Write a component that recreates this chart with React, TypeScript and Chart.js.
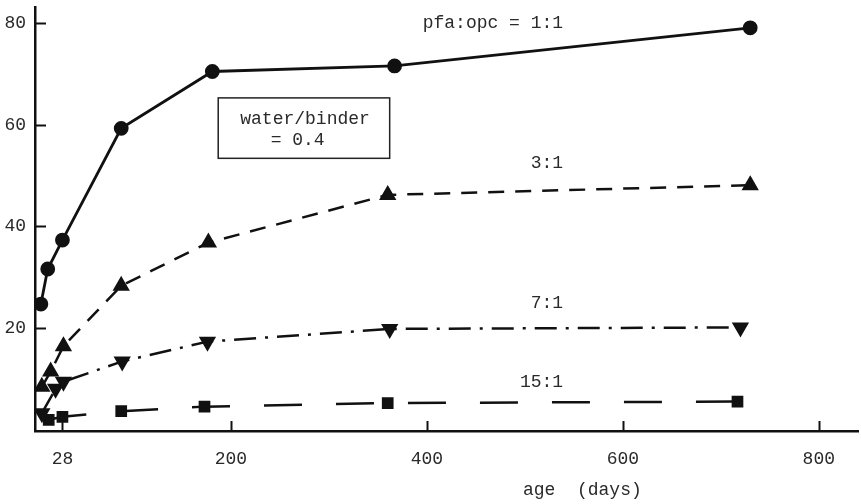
import React, { useEffect, useRef } from 'react';
import { Chart, registerables } from 'chart.js';

Chart.register(...registerables);

// ---- data ----
const seriesNames = ['pfa:opc = 1:1', '3:1', '7:1', '15:1'];

const age11 = [6, 13, 28, 88, 181, 367, 730];
const strength11 = [24.7, 31.6, 37.3, 59.3, 70.5, 71.6, 79.1];

const age31 = [7, 16, 29, 88, 177, 360, 730];
const strength31 = [8.4, 11.4, 16.4, 28.3, 36.8, 46.2, 48.1];

const age71 = [7, 21, 29, 89, 176, 362, 720];
const strength71 = [3.2, 8.0, 9.4, 13.4, 17.3, 19.8, 20.1];

const age151 = [14, 28, 88, 173, 360, 717];
const strength151 = [1.9, 2.5, 3.6, 4.5, 5.2, 5.5];

const xTickValues = [28, 200, 400, 600, 800];
const yTickValues = [20, 40, 60, 80];

const xAxisTitle = 'age  (days)';
const boxLines = ['water/binder', '= 0.4'];

// annotation positions (data coordinates)
const seriesLabelPos = [
  { x: 539, y: 80.0 },
  { x: 539, y: 52.5 },
  { x: 539, y: 24.9 },
  { x: 539, y: 9.4 },
];
const boxRect = { x0: 187, x1: 362, y0: 65.3, y1: 53.4 };
const boxTextPos = [
  { x: 209.5, y: 61.0 },
  { x: 240.5, y: 57.0 },
];
const xTitlePos = { x: 498, y: -11.9 };

const FONT = '"Liberation Mono", "DejaVu Sans Mono", monospace';
const INK = '#111';
const TEXT = '#2a2a2a';

const toPoints = (xs: number[], ys: number[]) => xs.map((x, i) => ({ x, y: ys[i] }));

const zeroPadding = (s: any) => {
  s.paddingTop = 0;
  s.paddingBottom = 0;
  s.paddingLeft = 0;
  s.paddingRight = 0;
};

const overlayPlugin = {
  id: 'overlay',
  afterDraw(chart: any) {
    const { ctx, chartArea, scales } = chart;
    const xs = scales.x;
    const ys = scales.y;
    ctx.save();
    // inward tick marks
    ctx.strokeStyle = INK;
    ctx.lineWidth = 2;
    xTickValues.forEach((v) => {
      const px = Math.round(xs.getPixelForValue(v)) + 0.5;
      ctx.beginPath();
      ctx.moveTo(px, chartArea.bottom);
      ctx.lineTo(px, chartArea.bottom - 10);
      ctx.stroke();
    });
    yTickValues.forEach((v) => {
      const py = Math.round(ys.getPixelForValue(v)) + 0.5;
      ctx.beginPath();
      ctx.moveTo(chartArea.left, py);
      ctx.lineTo(chartArea.left + 11, py);
      ctx.stroke();
    });

    ctx.fillStyle = TEXT;
    ctx.font = `18px ${FONT}`;
    ctx.textBaseline = 'middle';
    // series labels
    ctx.textAlign = 'right';
    seriesNames.forEach((name, i) => {
      const p = seriesLabelPos[i];
      ctx.fillText(name, xs.getPixelForValue(p.x), ys.getPixelForValue(p.y));
    });
    // box
    const bx0 = xs.getPixelForValue(boxRect.x0);
    const bx1 = xs.getPixelForValue(boxRect.x1);
    const by0 = ys.getPixelForValue(boxRect.y0);
    const by1 = ys.getPixelForValue(boxRect.y1);
    ctx.lineWidth = 1.5;
    ctx.strokeStyle = '#222';
    ctx.strokeRect(bx0, by0, bx1 - bx0, by1 - by0);
    ctx.textAlign = 'left';
    boxLines.forEach((t, i) => {
      const p = boxTextPos[i];
      ctx.fillText(t, xs.getPixelForValue(p.x), ys.getPixelForValue(p.y));
    });
    // x axis title
    ctx.fillText(xAxisTitle, xs.getPixelForValue(xTitlePos.x), ys.getPixelForValue(xTitlePos.y));
    ctx.restore();
  },
};

export default function App() {
  const canvasRef = useRef<HTMLCanvasElement | null>(null);

  useEffect(() => {
    const canvas = canvasRef.current;
    if (!canvas) return;
    const common = {
      borderColor: INK,
      backgroundColor: INK,
      pointBackgroundColor: INK,
      pointBorderColor: INK,
      borderWidth: 2.5,
      tension: 0,
      fill: false,
    };
    const chart = new Chart(canvas, {
      type: 'line',
      data: {
        datasets: [
          {
            ...common,
            label: seriesNames[0],
            data: toPoints(age11, strength11),
            pointStyle: 'circle',
            pointRadius: 6,
            borderWidth: 2.8,
          },
          {
            ...common,
            label: seriesNames[1],
            data: toPoints(age31, strength31),
            pointStyle: 'triangle',
            pointRadius: 7.5,
            borderDash: [16, 11],
          },
          {
            ...common,
            label: seriesNames[2],
            data: toPoints(age71, strength71),
            pointStyle: 'triangle',
            pointRotation: 180,
            pointRadius: 7.5,
            borderDash: [22, 9, 3, 9],
          },
          {
            ...common,
            label: seriesNames[3],
            data: toPoints(age151, strength151),
            pointStyle: 'rect',
            pointRadius: 6.5,
            borderDash: [38, 34],
          },
        ],
      },
      options: {
        responsive: false,
        animation: false,
        events: [],
        layout: { autoPadding: false, padding: { top: 7, right: 3, left: 0, bottom: 0 } },
        plugins: {
          legend: { display: false },
          tooltip: { enabled: false },
          title: { display: false },
        },
        scales: {
          x: {
            type: 'linear',
            min: 0,
            max: 840,
            afterBuildTicks: (s: any) => {
              s.ticks = xTickValues.map((v) => ({ value: v }));
            },
            afterFit: (s: any) => {
              s.height = 73;
              zeroPadding(s);
            },
            grid: { display: false, drawTicks: false },
            border: { display: true, color: INK, width: 2.5 },
            ticks: {
              font: { family: FONT, size: 18 },
              color: TEXT,
              padding: 17,
              maxRotation: 0,
              autoSkip: false,
            },
          },
          y: {
            type: 'linear',
            min: -0.3,
            max: 83.2,
            afterBuildTicks: (s: any) => {
              s.ticks = yTickValues.map((v) => ({ value: v }));
            },
            afterFit: (s: any) => {
              s.width = 35;
              zeroPadding(s);
            },
            grid: { display: false, drawTicks: false },
            border: { display: true, color: INK, width: 2.5 },
            ticks: {
              font: { family: FONT, size: 18 },
              color: TEXT,
              padding: 9,
              autoSkip: false,
            },
          },
        },
      },
      plugins: [overlayPlugin],
    } as any);
    return () => chart.destroy();
  }, []);

  return (
    <div style={{ position: 'absolute', left: 0, top: 0, width: 861, height: 504, background: '#fff' }}>
      <canvas ref={canvasRef} width={861} height={504} style={{ display: 'block' }} />
    </div>
  );
}
